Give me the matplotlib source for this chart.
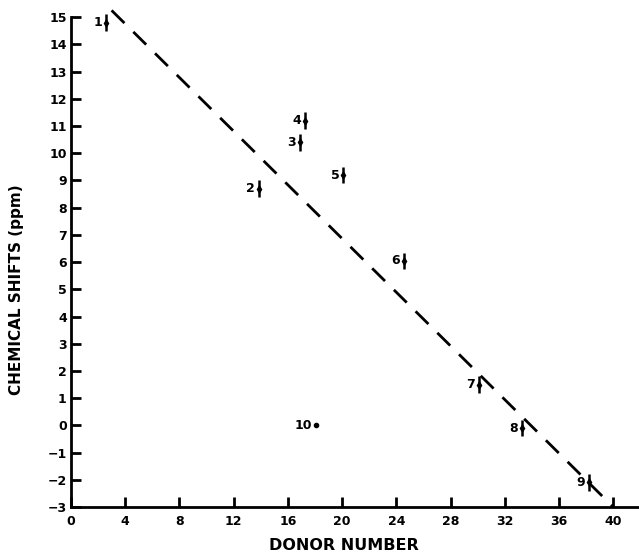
import matplotlib.pyplot as plt
import numpy as np

# Data
point_labels = ["1", "2", "3", "4", "5", "6", "7", "8", "9"]
donor_number = [2.6, 13.9, 16.9, 17.3, 20.1, 24.6, 30.1, 33.3, 38.2]
chem_shift = [14.8, 8.7, 10.4, 11.2, 9.2, 6.05, 1.5, -0.1, -2.1]
shift_err = [0.3, 0.3, 0.3, 0.3, 0.3, 0.3, 0.3, 0.3, 0.3]

# point 10 has no error bar
extra_label = "10"
extra_x = 18.1
extra_y = 0.0

# dashed trend line
fit_x = [3.0, 40.0]
fit_y = [15.25, -3.0]

xticks = [0, 4, 8, 12, 16, 20, 24, 28, 32, 36, 40]
yticks = list(range(-3, 16))

fig = plt.figure(figsize=(6.39, 5.57), dpi=100)
ax = fig.add_axes([0.111, 0.0898, 0.889, 0.894])

ax.plot(fit_x, fit_y, color="black", linestyle=(0, (6.5, 4.5)), linewidth=2)

ax.errorbar(donor_number, chem_shift, yerr=shift_err, fmt="d", color="black",
            markersize=3.5, elinewidth=1.8, capsize=0)
for lab, x, y in zip(point_labels, donor_number, chem_shift):
    ax.annotate(lab, (x, y), xytext=(-3, 0), textcoords="offset points",
                ha="right", va="center", fontsize=9, fontweight="bold")

ax.plot([extra_x], [extra_y], "o", color="black", markersize=3)
ax.annotate(extra_label, (extra_x, extra_y), xytext=(-3, 0), textcoords="offset points",
            ha="right", va="center", fontsize=9, fontweight="bold")

ax.set_xlim(0, 41.9)
ax.set_ylim(-3, 15.3)
ax.set_xticks(xticks)
ax.set_yticks(yticks)
ax.set_xticklabels([str(t) for t in xticks], fontweight="bold", fontsize=9)
ax.set_yticklabels([str(t).replace("-", "\u2212") for t in yticks],
                   fontweight="bold", fontsize=9)

for s in ["top", "right"]:
    ax.spines[s].set_visible(False)
ax.spines["left"].set_bounds(-3, 15)
ax.spines["left"].set_linewidth(2)
ax.spines["bottom"].set_linewidth(2)
ax.tick_params(axis="both", direction="in", length=7, width=2)
ax.tick_params(axis="x", pad=6)
ax.tick_params(axis="y", pad=3)

ax.set_xlabel("DONOR NUMBER", fontweight="bold", fontsize=11.5)
ax.set_ylabel("CHEMICAL SHIFTS (ppm)", fontweight="bold", fontsize=11)
ax.xaxis.set_label_coords(0.481, -0.062)
ax.yaxis.set_label_coords(-0.083, 0.436)

fig.savefig("out.png", dpi=100)
